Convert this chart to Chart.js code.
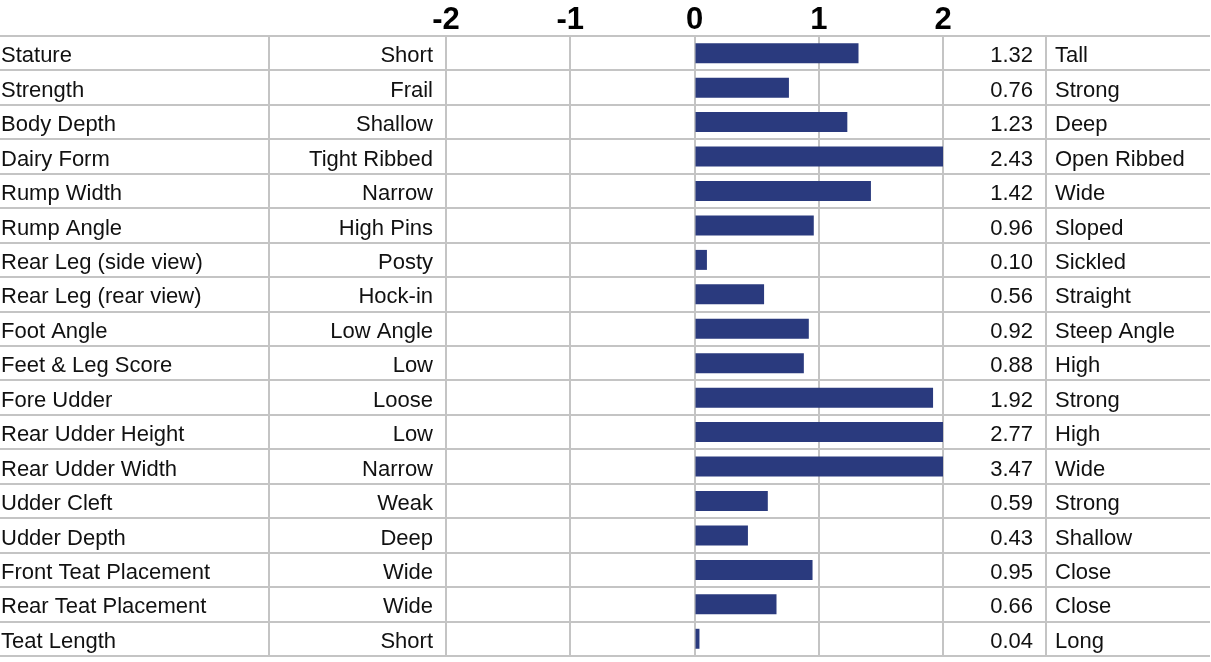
<!DOCTYPE html>
<html>
<head>
<meta charset="utf-8">
<script src="https://cdn.jsdelivr.net/npm/chart.js@4/dist/chart.umd.min.js"></script>
<style>
    body { margin: 0; background: #ffffff; }
    canvas { display: block; }
</style>
</head>
<body>
<canvas id="trait-chart" width="1211" height="662"></canvas>
<script>
// Trait names, low/high end descriptors and the values
const traits = ['Stature', 'Strength', 'Body Depth', 'Dairy Form', 'Rump Width', 'Rump Angle',
    'Rear Leg (side view)', 'Rear Leg (rear view)', 'Foot Angle', 'Feet & Leg Score', 'Fore Udder',
    'Rear Udder Height', 'Rear Udder Width', 'Udder Cleft', 'Udder Depth', 'Front Teat Placement',
    'Rear Teat Placement', 'Teat Length'];
const lowLabels = ['Short', 'Frail', 'Shallow', 'Tight Ribbed', 'Narrow', 'High Pins', 'Posty',
    'Hock-in', 'Low Angle', 'Low', 'Loose', 'Low', 'Narrow', 'Weak', 'Deep', 'Wide', 'Wide', 'Short'];
const highLabels = ['Tall', 'Strong', 'Deep', 'Open Ribbed', 'Wide', 'Sloped', 'Sickled',
    'Straight', 'Steep Angle', 'High', 'Strong', 'High', 'Wide', 'Strong', 'Shallow', 'Close',
    'Close', 'Long'];
const values = [1.32, 0.76, 1.23, 2.43, 1.42, 0.96, 0.10, 0.56, 0.92, 0.88, 1.92, 2.77, 3.47,
    0.59, 0.43, 0.95, 0.66, 0.04];
const tickValues = [-2, -1, 0, 1, 2];

const GRID = '#c4c4c4';
const FAMILY = 'Arial, "Liberation Sans", Helvetica, sans-serif';
const TEXT_FONT = '22px ' + FAMILY;

// Table lines and side columns drawn around the bar area
const tablePlugin = {
    id: 'table',
    beforeDatasetsDraw(chart) {
        const ctx = chart.ctx;
        const y = chart.scales.y;
        const area = chart.chartArea;
        const rowH = (area.bottom - area.top) / traits.length;
        ctx.save();
        ctx.strokeStyle = GRID;
        ctx.lineWidth = 2;
        ctx.beginPath();
        for (let i = 0; i <= traits.length; i++) {
            const py = Math.round(y.getPixelForValue(i) - rowH / 2);
            ctx.moveTo(0, py);
            ctx.lineTo(chart.width - 1, py);
        }
        [269, 1046].forEach(px => {
            ctx.moveTo(px, area.top);
            ctx.lineTo(px, area.bottom);
        });
        ctx.stroke();
        ctx.restore();
    },
    afterDatasetsDraw(chart) {
        const ctx = chart.ctx;
        const y = chart.scales.y;
        ctx.save();
        ctx.font = TEXT_FONT;
        ctx.fillStyle = '#111111';
        ctx.textBaseline = 'middle';
        traits.forEach((t, i) => {
            const py = y.getPixelForValue(i) + 3;
            ctx.textAlign = 'left';
            ctx.fillText(t, 1, py);
            ctx.textAlign = 'right';
            ctx.fillText(lowLabels[i], 433, py);
            ctx.fillText(values[i].toFixed(2), 1033, py);
            ctx.textAlign = 'left';
            ctx.fillText(highLabels[i], 1055, py);
        });
        ctx.restore();
    }
};

new Chart(document.getElementById('trait-chart'), {
    type: 'bar',
    data: {
        labels: traits,
        datasets: [{
            data: values,
            backgroundColor: '#2a3a7e',
            borderWidth: 0,
            barPercentage: 0.58,
            categoryPercentage: 1,
            clip: 0
        }]
    },
    options: {
        indexAxis: 'y',
        responsive: false,
        animation: false,
        layout: { padding: { left: 446, right: 268, top: 0, bottom: 6 } },
        plugins: {
            legend: { display: false },
            tooltip: { enabled: false }
        },
        scales: {
            x: {
                position: 'top',
                min: -2,
                max: 2,
                afterBuildTicks: scale => {
                    scale.ticks = tickValues.map(v => ({ value: v }));
                },
                afterFit: scale => { scale.height = 36; },
                border: { display: false },
                grid: { color: GRID, lineWidth: 2, drawTicks: false },
                ticks: {
                    color: '#000000',
                    padding: -3,
                    font: { family: FAMILY, size: 31, weight: 'bold' }
                }
            },
            y: {
                display: false
            }
        }
    },
    plugins: [tablePlugin]
});
</script>
</body>
</html>
